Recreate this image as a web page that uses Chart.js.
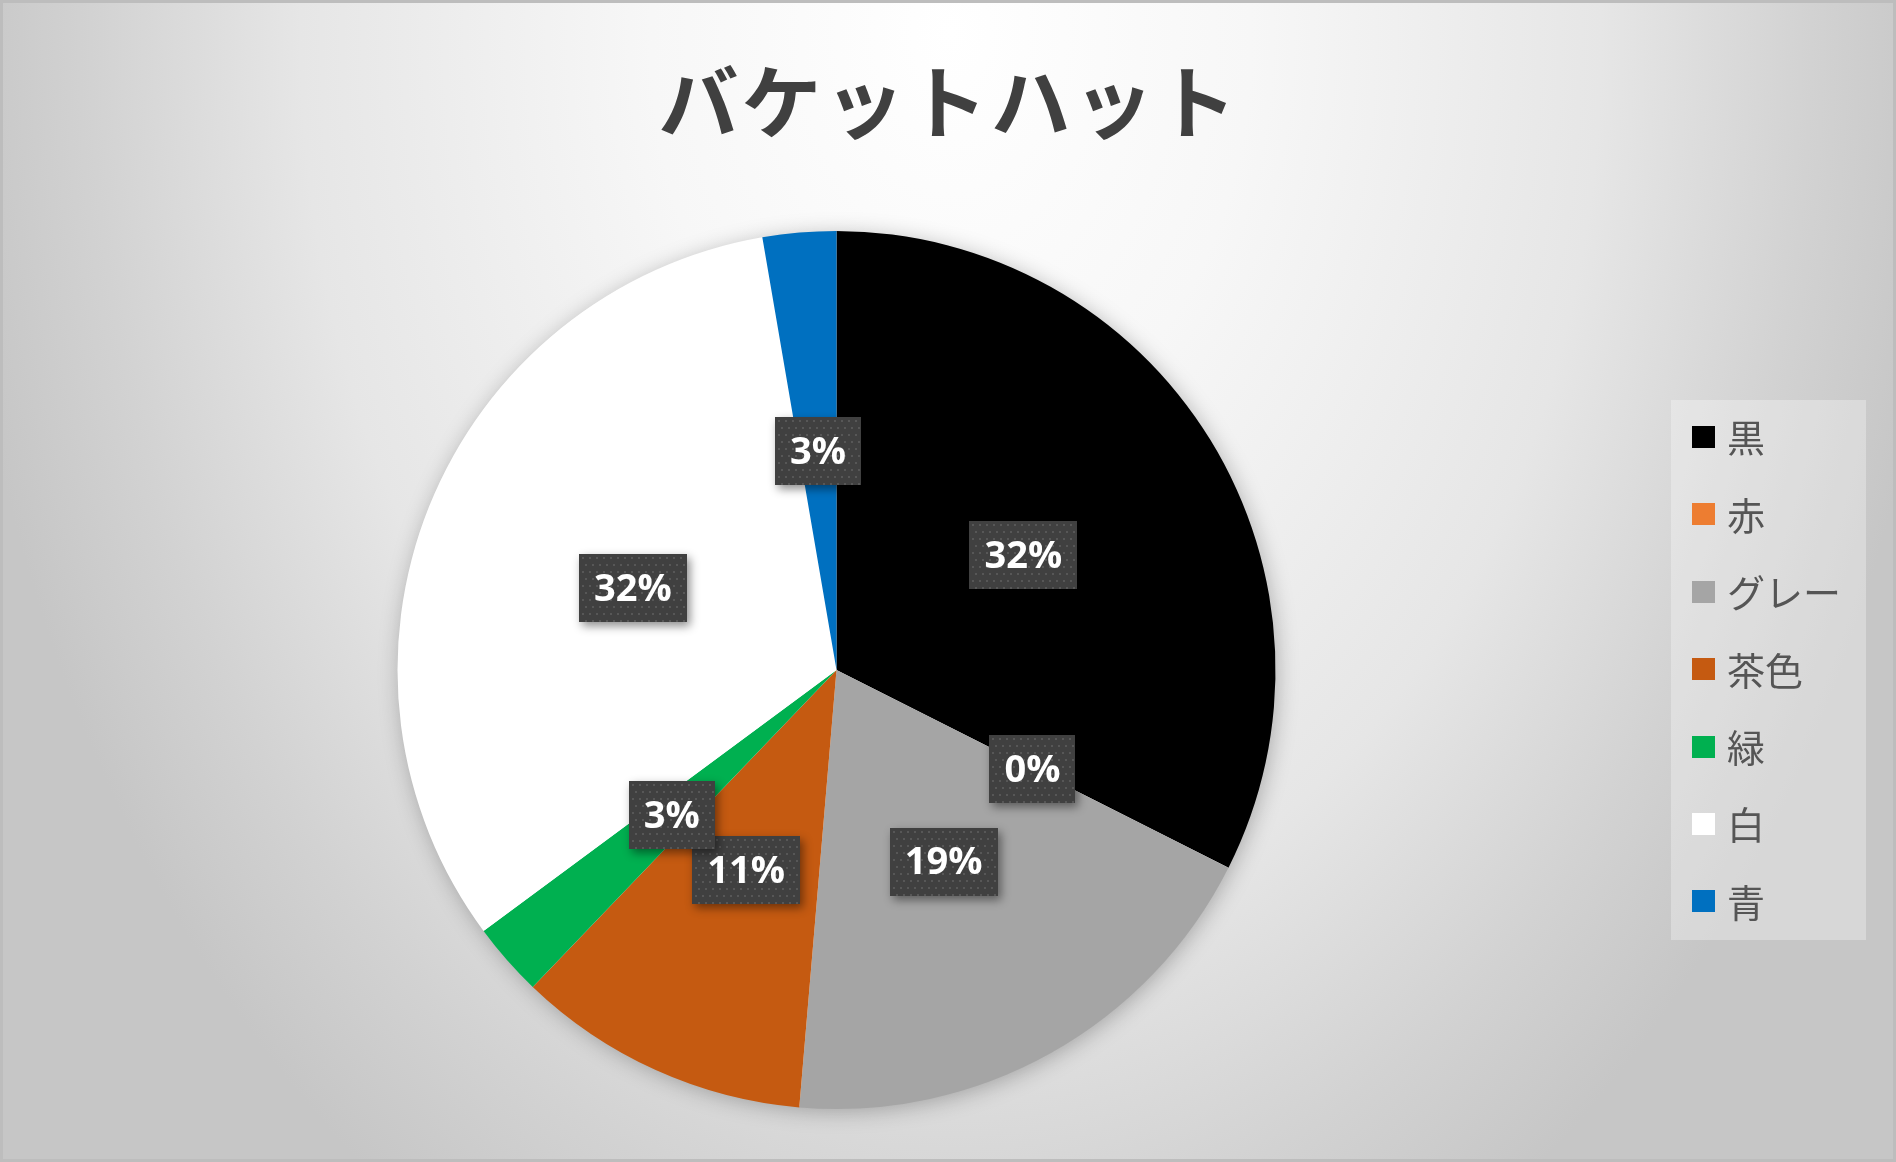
<!DOCTYPE html>
<html>
<head>
<meta charset="utf-8">
<script src="https://cdn.jsdelivr.net/npm/chart.js@4.4.1/dist/chart.umd.min.js"></script>
<style>
  html, body { margin: 0; padding: 0; overflow: hidden; }
  #wrap {
    position: relative; width: 1896px; height: 1162px; box-sizing: border-box;
    border: 3px solid #bdbdbd;
    background: radial-gradient(1000px 1400px at 948px 30px, #ffffff 0%, #f7f7f7 30%, #e6e6e6 65%, #d2d2d2 86%, #c6c6c6 100%);
  }
  canvas { position: absolute; left: -3px; top: -3px; }
</style>
</head>
<body>
<div id="wrap"><canvas id="c" width="1896" height="1162"></canvas></div>
<script>
const title = 'バケットハット';
const categories = ['黒', '赤', 'グレー', '茶色', '緑', '白', '青'];
const counts = [12, 0, 7, 4, 1, 12, 1];
const colors = ['#000000', '#ED7D31', '#A5A5A5', '#C55A11', '#00B050', '#FFFFFF', '#0070C0'];

const pieShadow = {
  id: 'pieShadow',
  beforeDatasetsDraw(chart) {
    const arc = chart.getDatasetMeta(0).data[0];
    if (!arc) return;
    const ctx = chart.ctx;
    ctx.save();
    ctx.shadowColor = 'rgba(0,0,0,0.28)';
    ctx.shadowBlur = 22;
    ctx.shadowOffsetX = 2;
    ctx.shadowOffsetY = 3;
    ctx.fillStyle = '#ffffff';
    ctx.beginPath();
    ctx.arc(arc.x, arc.y, arc.outerRadius - 1, 0, Math.PI * 2);
    ctx.fill();
    ctx.restore();
  }
};

const labelBoxes = {
  id: 'labelBoxes',
  afterDatasetsDraw(chart) {
    const ctx = chart.ctx;
    const ds = chart.data.datasets[0];
    const total = ds.data.reduce((a, b) => a + b, 0);
    const meta = chart.getDatasetMeta(0);
    meta.data.forEach((arc, i) => {
      const pct = Math.round(ds.data[i] / total * 100) + '%';
      const p = arc.getCenterPoint();
      ctx.save();
      ctx.font = 'bold 38px "Open Sans"';
      const tw = ctx.measureText(pct).width;
      const w = Math.round(tw + 30), h = 68;
      const x0 = Math.round(p.x - w / 2), y0 = Math.round(p.y - h / 2);
      ctx.save();
      ctx.shadowColor = 'rgba(0,0,0,0.45)';
      ctx.shadowBlur = 9;
      ctx.shadowOffsetX = 3;
      ctx.shadowOffsetY = 4;
      ctx.fillStyle = '#404040';
      ctx.fillRect(x0, y0, w, h);
      ctx.restore();
      ctx.save();
      ctx.beginPath();
      ctx.rect(x0, y0, w, h);
      ctx.clip();
      ctx.fillStyle = '#575757';
      let row = 0;
      for (let yy = y0 + 3; yy < y0 + h; yy += 7, row++) {
        for (let xx = x0 + 3 + (row % 2 ? 3 : 0); xx < x0 + w; xx += 7) {
          ctx.fillRect(xx, yy, 2, 2);
        }
      }
      ctx.restore();
      ctx.fillStyle = '#ffffff';
      ctx.textAlign = 'center';
      ctx.textBaseline = 'middle';
      ctx.fillText(pct, p.x, p.y + 2);
      ctx.restore();
    });
  }
};

const decorations = {
  id: 'decorations',
  afterDraw(chart) {
    const ctx = chart.ctx;
    ctx.save();
    ctx.fillStyle = '#404040';
    ctx.font = 'bold 80px "Noto Sans CJK JP"';
    ctx.letterSpacing = '3px';
    ctx.textAlign = 'center';
    ctx.textBaseline = 'middle';
    ctx.fillText(chart.options.plugins.customTitle.text, 949, 102);
    ctx.letterSpacing = '0px';

    // legend
    const lx = 1671, ly = 400, lw = 195, lh = 540;
    ctx.fillStyle = 'rgba(255,255,255,0.3)';
    ctx.fillRect(lx, ly, lw, lh);
    const ds = chart.data.datasets[0];
    ctx.font = '38px "Noto Sans CJK JP"';
    ctx.textAlign = 'left';
    chart.data.labels.forEach((lab, i) => {
      const cy = 437 + i * 77.4;
      ctx.fillStyle = ds.backgroundColor[i];
      ctx.fillRect(1692, Math.round(cy - 11), 23, 22);
      ctx.fillStyle = '#555555';
      ctx.fillText(lab, 1727, cy + 1);
    });
    ctx.restore();
  }
};

new Chart(document.getElementById('c'), {
  type: 'pie',
  data: {
    labels: categories,
    datasets: [{
      data: counts,
      backgroundColor: colors,
      borderWidth: 0,
      hoverOffset: 0
    }]
  },
  options: {
    responsive: false,
    animation: false,
    layout: { padding: { top: 231, bottom: 53, left: 397, right: 620 } },
    plugins: {
      legend: { display: false },
      tooltip: { enabled: false },
      customTitle: { text: title }
    }
  },
  plugins: [pieShadow, labelBoxes, decorations]
});
</script>
</body>
</html>
